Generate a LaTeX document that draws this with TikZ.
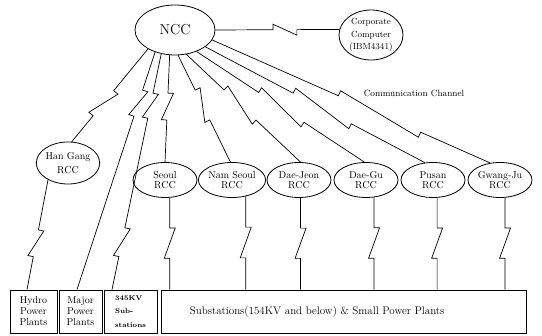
\documentclass[tikz,border=0pt]{standalone}
\usetikzlibrary{shapes.geometric,calc,positioning}

% jog size of the lightning mark on a channel
\newcommand{\zw}{5.5pt}
% channel from #1 to #2 with a lightning mark between fractions #3 and #4
\newcommand{\zlink}[4]{%
  \path (#1) coordinate (z0) (#2) coordinate (z3);
  \path ($(z0)!#3!(z3)$) coordinate (z1) ($(z0)!#4!(z3)$) coordinate (z2);
  \draw (z0) -- (z1) -- ($(z1)!\zw!90:(z3)$) -- ($(z2)!\zw!-90:(z3)$) -- (z2) -- (z3);
}

\tikzset{
  centre/.style={ellipse, draw, line width=0.8pt, inner sep=0pt, align=center},
  rcc/.style={centre, minimum width=64pt, minimum height=35pt, font=\fontsize{10}{10.5}\selectfont},
  plant/.style={draw, line width=0.9pt, inner sep=0pt, minimum height=43pt, align=center, font=\fontsize{10}{11}\selectfont},
}

\begin{document}
\begin{tikzpicture}[x=1pt,y=-1pt,line width=0.7pt]
		\useasboundingbox[fill=white] (0,0) rectangle (542,336);

		% control centres
		\node[centre, minimum width=80pt, minimum height=50pt, font=\Large] (ncc) at (175,30) {NCC};
		\node[centre, minimum width=64pt, minimum height=50pt, font=\fontsize{8.8}{12.5}\selectfont] (cc) at (371,35) {Corporate\\Computer\\(IBM4341)};
		\node[font=\small] (chan) at (414,93) {Communication Channel};

		\node[rcc, minimum width=63pt, minimum height=42pt, font=\fontsize{10}{14}\selectfont] (hg) at (68,163) {Han Gang\\RCC};
		\node[rcc] (seoul) at (165,180) {Seoul\\RCC};
		\node[rcc] (namseoul) at (232,180) {Nam Seoul\\RCC};
		\node[rcc] (daejeon) at (299,180) {Dae-Jeon\\RCC};
		\node[rcc] (daegu) at (366,180) {Dae-Gu\\RCC};
		\node[rcc] (pusan) at (433,180) {Pusan\\RCC};
		\node[rcc] (gwangju) at (500,180) {Gwang-Ju\\RCC};

		% plants and substations
		\node[plant, minimum width=47pt] (hydro) at (33.5,311.5) {Hydro\\Power\\Plants};
		\node[plant, minimum width=43pt] (major) at (80.5,311.5) {Major\\Power\\Plants};
		\node[plant, minimum width=53pt, align=left, font=\fontsize{7}{13.5}\selectfont\bfseries] (kv) at (130.5,311.5) {345KV\\Sub-\\stations};
		\node[plant, minimum width=365pt] (sub) at (343.5,311.5) {};
		\node[right=29pt of sub.west, inner sep=0pt, font=\fontsize{11}{13}\selectfont] (subtext) {Substations(154KV and below) \& Small Power Plants};

		\coordinate (hydrotop) at ([xshift=-6.5pt]hydro.north);
		\coordinate (majtop) at ([xshift=-3.5pt]major.north);
		\coordinate (kvtop) at ([xshift=-18.5pt]kv.north);
		\coordinate (kvmid) at ($(ncc.240)!0.5!(kvtop)$);
		\coordinate (seoulsub) at (seoul.285 |- sub.north);
		\coordinate (namseoulsub) at (namseoul.310 |- sub.north);
		\coordinate (daejeonsub) at (daejeon.275 |- sub.north);
		\coordinate (daegusub) at (daegu.295 |- sub.north);
		\coordinate (pusansub) at (pusan.283 |- sub.north);
		\coordinate (gwangjusub) at (gwangju.286 |- sub.north);

		% channels from NCC
		\zlink{ncc.east}{cc.170}{0.465}{0.657}
		\zlink{ncc.215}{hg.80}{0.45}{0.72}
		\zlink{ncc.228}{majtop}{0.16}{0.27}
		\zlink{ncc.240}{kvmid}{0.334}{0.546}
		\zlink{kvmid}{kvtop}{0.476}{0.72}
		\zlink{ncc.258}{seoul.north}{0.355}{0.606}
		\zlink{ncc.277}{namseoul.95}{0.326}{0.605}
		\zlink{ncc.295}{daejeon.85}{0.33}{0.61}
		\zlink{ncc.315}{daegu.95}{0.37}{0.64}
		\zlink{ncc.331}{pusan.115}{0.40}{0.665}
		\zlink{ncc.345}{gwangju.120}{0.454}{0.75}

		% channels from RCCs
		\zlink{hg.220}{hydrotop}{0.457}{0.70}
		\zlink{seoul.285}{seoulsub}{0.33}{0.66}
		\zlink{namseoul.310}{namseoulsub}{0.33}{0.66}
		\zlink{daejeon.275}{daejeonsub}{0.33}{0.66}
		\zlink{daegu.295}{daegusub}{0.33}{0.66}
		\zlink{pusan.283}{pusansub}{0.33}{0.66}
		\zlink{gwangju.286}{gwangjusub}{0.33}{0.66}
	\end{tikzpicture}
\end{document}
